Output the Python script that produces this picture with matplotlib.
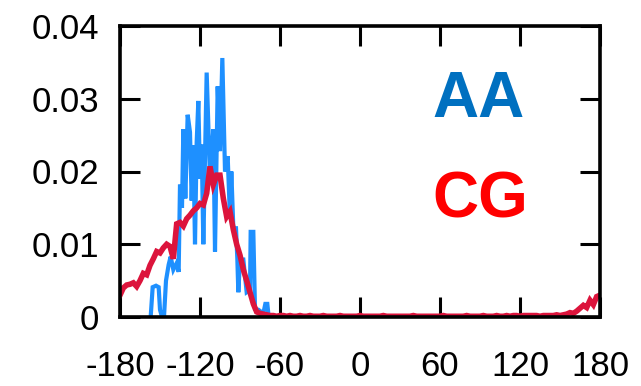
import matplotlib
matplotlib.use("Agg")
import matplotlib.pyplot as plt

plt.rcParams['font.family'] = ['Liberation Sans', 'DejaVu Sans']
plt.rcParams['axes.unicode_minus'] = False

# AA series (blue)
aa_angle = [-157, -155.5, -153, -151, -150, -148.5, -147, -145.5, -143.5, -142,
            -140, -137.5, -136, -135, -133.5, -132.5, -131, -129.25, -127.5, -126.25,
            -125, -123.75, -122.5, -121.25, -120, -118.75, -117.5, -115, -112.5, -110,
            -108.75, -106.75, -105, -103.25, -101.25, -99.25, -97.5, -96.5, -95, -93,
            -92, -91.25, -90, -87.5, -85, -82.5, -82, -80, -78.75, -76.25,
            -72.5, -71, -69.5, -68.5, -67]
aa_value = [0.0, 0.0041, 0.0043, 0.0041, 0.0010, 0.0, 0.0, 0.0050, 0.0072, 0.0083,
            0.0065, 0.0074, 0.0062, 0.0182, 0.0150, 0.0258, 0.0163, 0.0278, 0.0254, 0.0160,
            0.0236, 0.0100, 0.0240, 0.0297, 0.0190, 0.0237, 0.0100, 0.0336, 0.0191, 0.0258,
            0.0090, 0.0317, 0.0228, 0.0356, 0.0200, 0.0221, 0.0136, 0.0200, 0.0122, 0.0122,
            0.0080, 0.0034, 0.0079, 0.0079, 0.0034, 0.0037, 0.0117, 0.0117, 0.0011, 0.0010,
            0.0005, 0.0018, 0.0018, 0.0, 0.0]

# CG series (red), 2.5 degree grid from -180 to 180
cg_angle = [-180 + 2.5 * i for i in range(145)]
cg_value = [0.0030, 0.0040, 0.0044, 0.0045, 0.0047, 0.0042, 0.0050, 0.0060, 0.0058, 0.0071,
            0.0080, 0.0090, 0.0088, 0.0095, 0.0100, 0.0097, 0.0080, 0.0128, 0.0130, 0.0125,
            0.0135, 0.0140, 0.0146, 0.0150, 0.0156, 0.0154, 0.0170, 0.0207, 0.0182, 0.0195,
            0.0195, 0.0163, 0.0138, 0.0145, 0.0120, 0.0100, 0.0085, 0.0065, 0.0050, 0.0034,
            0.0018, 0.0007, 0.0005, 0.0004, 0.0003,
            0.0002, 0.0002, 0.0001, 0.0002, 0.0002, 0.0001, 0.0002, 0.0001, 0.0001, 0.0002,
            0.0001, 0.0001, 0.0002, 0.0001, 0.0001, 0.0001, 0.0002, 0.0001, 0.0001, 0.0001,
            0.0001, 0.0002, 0.0001, 0.0001, 0.0001, 0.0001, 0.0001, 0.0002, 0.0001, 0.0001,
            0.0001, 0.0001, 0.0001, 0.0001, 0.0002, 0.0001, 0.0001, 0.0001, 0.0001, 0.0001,
            0.0001, 0.0001, 0.0001, 0.0002, 0.0001, 0.0001, 0.0001, 0.0001, 0.0001, 0.0001,
            0.0001, 0.0001, 0.0002, 0.0001, 0.0001, 0.0001, 0.0001, 0.0001, 0.0001, 0.0002,
            0.0001, 0.0001, 0.0001, 0.0001, 0.0002, 0.0001, 0.0001, 0.0001, 0.0002, 0.0001,
            0.0001, 0.0002, 0.0001, 0.0002, 0.0002, 0.0001, 0.0002, 0.0002, 0.0002, 0.0002,
            0.0002, 0.0001, 0.0002, 0.0002, 0.0002, 0.0002,
            0.0003, 0.0002, 0.0003, 0.0004, 0.0006, 0.0005, 0.0008, 0.0012, 0.0016, 0.0013,
            0.0023, 0.0017, 0.0028, 0.0030]

x_ticks = [-180, -120, -60, 0, 60, 120, 180]
y_ticks = [0, 0.01, 0.02, 0.03, 0.04]
y_tick_labels = ['0', '0.01', '0.02', '0.03', '0.04']

fig = plt.figure(figsize=(6.41, 3.86), dpi=100)
ax = fig.add_axes([120 / 641, 1 - 317 / 386, 480 / 641, 291 / 386])

ax.plot(aa_angle, aa_value, color='#1E90FF', lw=3.0, solid_joinstyle='miter', zorder=2)
ax.plot(cg_angle, cg_value, color='#DC143C', lw=4.0, solid_joinstyle='miter', zorder=3)

ax.set_xlim(-180, 180)
ax.set_ylim(0, 0.04)
ax.set_xticks(x_ticks)
ax.set_xticklabels([str(t) for t in x_ticks])
ax.set_yticks(y_ticks)
ax.set_yticklabels(y_tick_labels)

for s in ax.spines.values():
    s.set_linewidth(2.6)
    s.set_zorder(4)
ax.tick_params(direction='in', length=14.4, width=2.2, top=True, right=True,
               labelsize=25)
ax.tick_params(axis='x', pad=24)
ax.tick_params(axis='y', pad=15)

ax.text(89, 0.0298, 'AA', color='#0070C0', fontsize=46, fontweight='bold',
        ha='center', va='center')
ax.text(90, 0.0160, 'CG', color='#FF0000', fontsize=46, fontweight='bold',
        ha='center', va='center')

fig.savefig('out.png', dpi=100)
